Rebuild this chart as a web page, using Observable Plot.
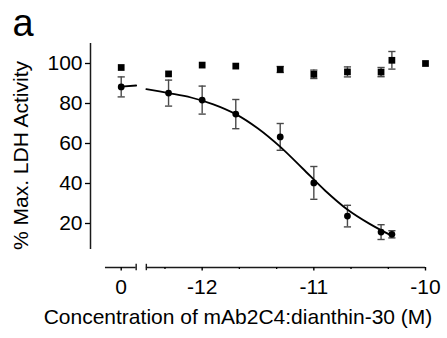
<!DOCTYPE html>
<html>
<head>
<meta charset="utf-8">
<script src="https://cdn.jsdelivr.net/npm/d3@7"></script>
<script src="https://cdn.jsdelivr.net/npm/@observablehq/plot@0.6"></script>
<style>
  body { margin: 0; background: #fff; }
  #chart svg { display: block; }
</style>
</head>
<body>
<div id="chart"></div>
<script>
// ---- data ----
// concentrations of mAb2C4:dianthin-30 in M (0 = no treatment)
const conc = [0, 5e-13, 1e-12, 2e-12, 5e-12, 1e-11, 2e-11, 4e-11, 5e-11, 1e-10];
// circles: immunotoxin series (first 9 concentrations)
const circleMean = [88.3, 85.2, 81.7, 74.7, 63.3, 40.3, 23.7, 15.7, 14.6];
const circleErr  = [5.0, 6.5, 7.0, 7.3, 6.7, 8.2, 5.4, 3.7, 1.8];
// squares: control series (all 10 concentrations)
const squareMean = [98.0, 94.8, 99.2, 98.7, 97.0, 94.6, 95.8, 95.7, 101.6, 100.0];
const squareErr  = [0, 0, 0, 0, 1.5, 2.1, 2.5, 2.3, 4.4, 0];
// fitted dose-response curve (log10 M, % activity)
const fitLogConc = [-12.5, -12.3, -12.1, -11.9, -11.7, -11.5, -11.3, -11.1, -10.9, -10.7, -10.5, -10.3];
const fitValue   = [87.2, 85.2, 83.0, 79.6, 74.7, 67.5, 58.3, 47.5, 36.5, 27.0, 19.8, 13.8];
// short piece of the fit drawn in the "0" segment
const zeroFitValue = [88.4, 89.0];
// axis ticks
const xTickConc   = [0, 1e-12, 1e-11, 1e-10];
const xTickLabels = ["0", "-12", "-11", "-10"];
const xMinorTicks = [-12.333, -11.667, -11.333, -10.667, -10.333];
const yTicks = [20, 40, 60, 80, 100];

// ---- broken-axis layout (scale config) ----
const xDomain = [-13, -10];
const yDomain = [-2, 110];
const zeroPos = -12.725;              // where concentration 0 sits
const leftSeg = [-12.866, -12.591];   // "0" piece of the x axis
const rightSeg = [-12.5, -10];        // log piece of the x axis
const yAxisSpan = [7, 110];

const pos = c => (c === 0 ? zeroPos : Math.log10(c));

const circles = circleMean.map((v, i) => ({x: pos(conc[i]), y: v, e: circleErr[i]}));
const squares = squareMean.map((v, i) => ({x: pos(conc[i]), y: v, e: squareErr[i]}));
const squaresErr = squares.filter(d => d.e > 0);
const fit = fitLogConc.map((x, i) => ({x, y: fitValue[i]}));
const zeroFit = [{x: zeroPos, y: zeroFitValue[0]}, {x: leftSeg[1], y: zeroFitValue[1]}];
const tickLabel = new Map(xTickConc.map((c, i) => [pos(c), xTickLabels[i]]));

const cap = {draw(ctx) { ctx.moveTo(-3.6, 0); ctx.lineTo(3.6, 0); }};
const errColor = "#4a4a4a";

const errMarks = (data) => [
  Plot.ruleX(data, {x: "x", y1: d => d.y - d.e, y2: d => d.y + d.e, stroke: errColor, strokeWidth: 1.4}),
  Plot.dot(data, {x: "x", y: d => d.y + d.e, symbol: cap, stroke: errColor, strokeWidth: 1.4, fill: "none"}),
  Plot.dot(data, {x: "x", y: d => d.y - d.e, symbol: cap, stroke: errColor, strokeWidth: 1.4, fill: "none"})
];

const chart = Plot.plot({
  width: 447,
  height: 338,
  marginLeft: 90,
  marginRight: 22,
  marginTop: 43,
  marginBottom: 71,
  x: {domain: xDomain},
  y: {domain: yDomain},
  style: {fontFamily: "'Liberation Sans', Arial, sans-serif", fontSize: "21px", background: "#fff", color: "#000"},
  marks: [
    // y axis line
    Plot.ruleX([xDomain[0]], {x: d => d, y1: yAxisSpan[0], y2: yAxisSpan[1], stroke: "#1a1a1a", strokeWidth: 1.5}),
    Plot.axisY({ticks: yTicks, tickSize: 5, tickPadding: 3, label: null, fontSize: 21, strokeWidth: 1.3}),
    // broken x axis
    Plot.ruleY([{a: leftSeg[0], b: leftSeg[1]}, {a: rightSeg[0], b: rightSeg[1]}],
      {y: yDomain[0], x1: "a", x2: "b", stroke: "#1a1a1a", strokeWidth: 1.5}),
    Plot.ruleX([leftSeg[1], rightSeg[0]], {x: d => d, y1: -3.6, y2: -0.4, stroke: "#1a1a1a", strokeWidth: 1.4}),
    Plot.axisX({ticks: xTickConc.map(pos), tickFormat: d => tickLabel.get(d), tickSize: 3.5,
      tickPadding: 8.5, label: null, fontSize: 21, strokeWidth: 1.4}),
    Plot.axisX({ticks: xMinorTicks, tickFormat: () => "", tickSize: 2, tickPadding: 0, label: null, strokeWidth: 1.3}),
    // error bars
    ...errMarks(circles),
    ...errMarks(squaresErr),
    // fitted curve
    Plot.line(zeroFit, {x: "x", y: "y", stroke: "#000", strokeWidth: 1.8}),
    Plot.line(fit, {x: "x", y: "y", curve: "catmull-rom", stroke: "#000", strokeWidth: 1.8}),
    // points
    Plot.dot(squares, {x: "x", y: "y", symbol: "square", r: 3.8, fill: "#000", stroke: "none"}),
    Plot.dot(circles, {x: "x", y: "y", symbol: "circle", r: 3.4, fill: "#000", stroke: "none"}),
    // texts
    Plot.text(["a"], {frameAnchor: "top-left", text: d => d, dx: -78, dy: -8, textAnchor: "start",
      lineAnchor: "bottom", fontSize: 38}),
    Plot.text(["% Max. LDH Activity"], {frameAnchor: "left", text: d => d, rotate: -90, dx: -69,
      textAnchor: "middle", lineAnchor: "middle", fontSize: 21}),
    Plot.text(["Concentration of mAb2C4:dianthin-30 (M)"], {frameAnchor: "bottom", text: d => d,
      dx: -20, dy: 56, textAnchor: "middle", lineAnchor: "bottom", fontSize: 21})
  ]
});
document.getElementById("chart").appendChild(chart);
</script>
</body>
</html>
